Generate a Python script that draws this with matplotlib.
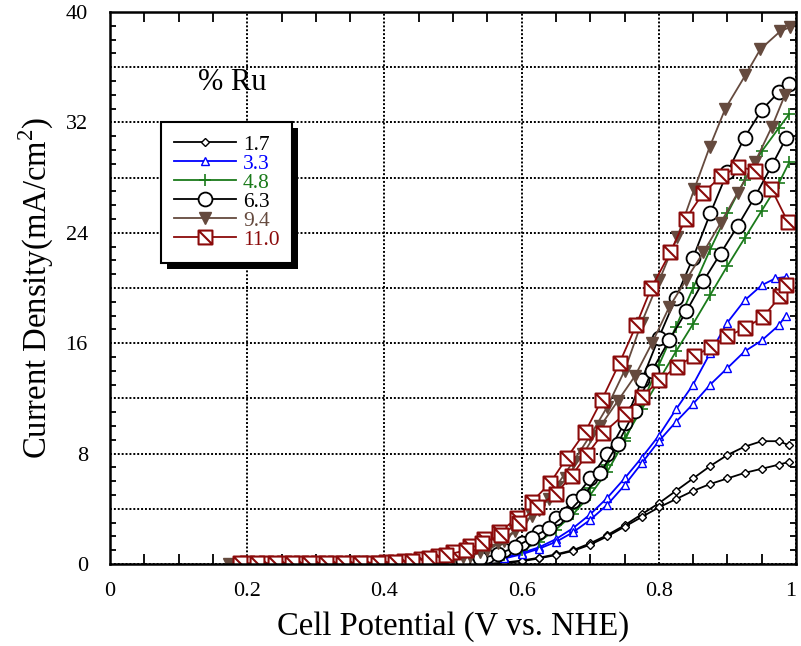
import matplotlib
matplotlib.use('Agg')
import matplotlib.pyplot as plt
from matplotlib.path import Path
from matplotlib.patches import Rectangle
from matplotlib.ticker import MultipleLocator, FuncFormatter
from matplotlib.transforms import IdentityTransform

plt.rcParams['font.family'] = ['Liberation Serif', 'DejaVu Serif']
plt.rcParams['mathtext.fontset'] = 'custom'
plt.rcParams['mathtext.rm'] = 'Liberation Serif'

# ---- data: each Ru loading has an upper and a lower sweep branch ----
ru_labels = ['1.7', '3.3', '4.8', '6.3', '9.4', '11.0']

x_17_up = [0.50, 0.525, 0.55, 0.575, 0.60, 0.625, 0.65, 0.675, 0.70, 0.725, 0.75, 0.775, 0.80, 0.825, 0.85, 0.875, 0.90, 0.925, 0.95, 0.975, 0.99]
y_17_up = [0.0, 0.0, 0.0, 0.1, 0.25, 0.45, 0.7, 1.0, 1.5, 2.1, 2.8, 3.6, 4.4, 5.3, 6.2, 7.1, 7.9, 8.5, 8.9, 8.9, 8.6]
x_17_dn = [0.50, 0.525, 0.55, 0.575, 0.60, 0.625, 0.65, 0.675, 0.70, 0.725, 0.75, 0.775, 0.80, 0.825, 0.85, 0.875, 0.90, 0.925, 0.95, 0.975, 0.99]
y_17_dn = [0.0, 0.0, 0.0, 0.05, 0.2, 0.4, 0.65, 0.95, 1.4, 2.0, 2.7, 3.4, 4.1, 4.7, 5.3, 5.8, 6.2, 6.6, 6.9, 7.2, 7.4]

x_33_up = [0.45, 0.475, 0.50, 0.525, 0.55, 0.575, 0.60, 0.625, 0.65, 0.675, 0.70, 0.725, 0.75, 0.775, 0.80, 0.825, 0.85, 0.875, 0.90, 0.925, 0.95, 0.97, 0.985]
y_33_up = [0.0, 0.05, 0.05, 0.1, 0.3, 0.5, 0.8, 1.2, 1.8, 2.6, 3.6, 4.8, 6.2, 7.7, 9.3, 11.2, 13.0, 15.3, 17.5, 19.1, 20.2, 20.7, 20.8]
x_33_dn = [0.45, 0.475, 0.50, 0.525, 0.55, 0.575, 0.60, 0.625, 0.65, 0.675, 0.70, 0.725, 0.75, 0.775, 0.80, 0.825, 0.85, 0.875, 0.90, 0.925, 0.95, 0.975, 0.985]
y_33_dn = [0.0, 0.0, 0.05, 0.05, 0.2, 0.4, 0.7, 1.1, 1.6, 2.3, 3.2, 4.3, 5.7, 7.3, 8.9, 10.3, 11.6, 13.0, 14.2, 15.4, 16.2, 17.3, 18.0]

x_48_up = [0.425, 0.45, 0.475, 0.50, 0.525, 0.55, 0.575, 0.60, 0.625, 0.65, 0.675, 0.70, 0.725, 0.75, 0.775, 0.80, 0.825, 0.85, 0.875, 0.90, 0.925, 0.95, 0.975, 0.99]
y_48_up = [0.0, 0.05, 0.1, 0.15, 0.25, 0.4, 0.65, 1.0, 1.6, 2.5, 3.6, 5.0, 6.7, 8.9, 11.6, 14.4, 17.2, 20.0, 22.8, 25.4, 27.8, 29.9, 31.6, 32.6]
x_48_dn = [0.425, 0.45, 0.475, 0.50, 0.525, 0.55, 0.575, 0.60, 0.625, 0.65, 0.675, 0.70, 0.725, 0.75, 0.775, 0.80, 0.825, 0.85, 0.875, 0.90, 0.925, 0.95, 0.975, 0.99]
y_48_dn = [0.0, 0.05, 0.1, 0.15, 0.25, 0.45, 0.75, 1.2, 1.9, 2.8, 4.0, 5.5, 7.2, 9.1, 11.2, 13.3, 15.4, 17.4, 19.5, 21.6, 23.6, 25.6, 27.6, 29.1]

x_63_up = [0.20, 0.225, 0.25, 0.275, 0.30, 0.325, 0.35, 0.375, 0.40, 0.425, 0.45, 0.475, 0.50, 0.525, 0.55, 0.575, 0.60, 0.625, 0.65, 0.675, 0.70, 0.725, 0.75, 0.775, 0.80, 0.825, 0.85, 0.875, 0.90, 0.925, 0.95, 0.975, 0.99]
y_63_up = [0.0, 0.0, 0.0, 0.0, 0.0, 0.0, 0.05, 0.05, 0.05, 0.1, 0.1, 0.15, 0.2, 0.35, 0.6, 1.0, 1.5, 2.3, 3.3, 4.6, 6.2, 8.0, 10.2, 13.3, 16.4, 19.3, 22.2, 25.4, 28.4, 30.9, 32.9, 34.2, 34.8]
x_63_dn = [0.215, 0.24, 0.265, 0.29, 0.315, 0.34, 0.365, 0.39, 0.415, 0.44, 0.465, 0.49, 0.515, 0.54, 0.565, 0.59, 0.615, 0.64, 0.665, 0.69, 0.715, 0.74, 0.765, 0.79, 0.815, 0.84, 0.865, 0.89, 0.915, 0.94, 0.965, 0.986]
y_63_dn = [0.0, 0.0, 0.0, 0.0, 0.0, 0.0, 0.05, 0.05, 0.05, 0.1, 0.1, 0.15, 0.25, 0.4, 0.7, 1.2, 1.9, 2.6, 3.6, 4.9, 6.6, 8.7, 11.1, 14.0, 16.2, 18.3, 20.5, 22.5, 24.5, 26.6, 28.9, 30.9]

x_94_up = [0.174, 0.20, 0.225, 0.25, 0.275, 0.30, 0.325, 0.35, 0.375, 0.40, 0.425, 0.45, 0.475, 0.50, 0.525, 0.55, 0.575, 0.60, 0.625, 0.65, 0.675, 0.70, 0.725, 0.75, 0.775, 0.801, 0.827, 0.852, 0.874, 0.897, 0.926, 0.948, 0.977, 0.991]
y_94_up = [0.0, 0.0, 0.0, 0.0, 0.05, 0.05, 0.05, 0.05, 0.1, 0.1, 0.1, 0.15, 0.2, 0.35, 0.6, 1.0, 1.7, 2.8, 3.9, 5.6, 7.4, 9.3, 11.4, 14.0, 17.5, 20.6, 23.7, 27.2, 30.2, 33.0, 35.4, 37.3, 38.6, 38.9]
x_94_dn = [0.19, 0.215, 0.24, 0.265, 0.29, 0.315, 0.34, 0.365, 0.39, 0.415, 0.44, 0.465, 0.49, 0.515, 0.54, 0.565, 0.59, 0.615, 0.64, 0.665, 0.69, 0.715, 0.74, 0.765, 0.79, 0.815, 0.84, 0.865, 0.89, 0.915, 0.94, 0.965, 0.984]
y_94_dn = [0.0, 0.0, 0.0, 0.0, 0.05, 0.05, 0.05, 0.05, 0.1, 0.1, 0.1, 0.15, 0.3, 0.5, 0.9, 1.5, 2.4, 3.5, 4.7, 6.2, 8.0, 10.0, 11.8, 13.6, 16.0, 18.6, 20.6, 22.6, 24.7, 26.9, 29.1, 31.7, 34.0]

x_110_up = [0.20, 0.228, 0.253, 0.278, 0.303, 0.328, 0.353, 0.378, 0.403, 0.428, 0.453, 0.478, 0.50, 0.525, 0.545, 0.567, 0.593, 0.615, 0.642, 0.666, 0.693, 0.717, 0.743, 0.767, 0.789, 0.817, 0.839, 0.865, 0.891, 0.916, 0.940, 0.964, 0.988]
y_110_up = [0.05, 0.05, 0.1, 0.1, 0.1, 0.1, 0.1, 0.1, 0.15, 0.2, 0.35, 0.6, 0.9, 1.3, 1.8, 2.3, 3.3, 4.5, 5.9, 7.7, 9.6, 11.9, 14.6, 17.3, 20.0, 22.6, 25.0, 26.9, 28.1, 28.8, 28.5, 27.2, 24.8]
x_110_dn = [0.19, 0.215, 0.24, 0.265, 0.29, 0.315, 0.34, 0.365, 0.39, 0.415, 0.44, 0.465, 0.49, 0.519, 0.542, 0.570, 0.596, 0.622, 0.650, 0.673, 0.695, 0.719, 0.751, 0.775, 0.801, 0.826, 0.852, 0.876, 0.900, 0.926, 0.952, 0.977, 0.985]
y_110_dn = [0.05, 0.05, 0.05, 0.05, 0.05, 0.1, 0.1, 0.1, 0.1, 0.15, 0.25, 0.4, 0.65, 1.0, 1.5, 2.1, 3.0, 4.1, 5.1, 6.4, 7.9, 9.5, 10.9, 12.1, 13.3, 14.3, 15.1, 15.7, 16.5, 17.1, 17.9, 19.4, 20.2]

# square with a diagonal stroke (top-left to bottom-right)
sq_diag = Path([(-1, -1), (1, -1), (1, 1), (-1, 1), (-1, -1), (-1, 1), (1, -1)],
               [Path.MOVETO, Path.LINETO, Path.LINETO, Path.LINETO, Path.CLOSEPOLY, Path.MOVETO, Path.LINETO])

series = [
    (x_17_up, y_17_up, x_17_dn, y_17_dn, '#000000', dict(marker='D', ms=4.5, mfc='white')),
    (x_33_up, y_33_up, x_33_dn, y_33_dn, '#0000ff', dict(marker='^', ms=6, mfc='white')),
    (x_48_up, y_48_up, x_48_dn, y_48_dn, '#1a7a1a', dict(marker='+', ms=8, mew=1.2)),
    (x_63_up, y_63_up, x_63_dn, y_63_dn, '#000000', dict(marker='o', ms=10, mfc='white', mew=1.3)),
    (x_94_up, y_94_up, x_94_dn, y_94_dn, '#654a3e', dict(marker='v', ms=9)),
    (x_110_up, y_110_up, x_110_dn, y_110_dn, '#8b0a0a', dict(marker=sq_diag, ms=10, mfc='white', mew=1.5)),
]

fig = plt.figure(figsize=(8.01, 6.46), dpi=100)
ax = fig.add_axes([110 / 801, (646 - 564) / 646, 686 / 801, 552 / 646])

handles = []
for (xu, yu, xd, yd, col, mk), lab in zip(series, ru_labels):
    h, = ax.plot(xu, yu, color=col, lw=1.3, mec=col, label=lab, **mk)
    ax.plot(xd, yd, color=col, lw=1.3, mec=col, **mk)
    handles.append(h)

ax.set_xlim(0, 1)
ax.set_ylim(0, 40)
ax.xaxis.set_major_locator(MultipleLocator(0.2))
ax.xaxis.set_minor_locator(MultipleLocator(0.05))
ax.yaxis.set_major_locator(MultipleLocator(4))
ax.yaxis.set_minor_locator(MultipleLocator(1))
ax.xaxis.set_major_formatter(FuncFormatter(lambda v, p: '0' if abs(v) < 1e-9 else ('1' if abs(v - 1) < 1e-9 else f'{v:.1f}')))
ax.yaxis.set_major_formatter(FuncFormatter(lambda v, p: f'{int(round(v))}' if int(round(v)) % 8 == 0 else ''))
ax.tick_params(which='both', direction='in', top=True, right=True, colors='black', width=1.3)
ax.tick_params(which='major', length=0, labelsize=16)
ax.tick_params(axis='x', which='major', pad=13)
ax.tick_params(axis='y', which='major', pad=16)
ax.tick_params(axis='x', which='minor', length=7)
ax.tick_params(axis='y', which='minor', length=4.5)
ax.grid(True, which='major', color='black', linestyle=(0, (1, 1)), linewidth=1.4)
ax.set_axisbelow(True)
for sp in ax.spines.values():
    sp.set_linewidth(1.8)

ax.set_xlabel('Cell Potential (V vs. NHE)', fontsize=23.5, labelpad=7)
ax.set_ylabel('Current Density(mA/cm$^2$)', fontsize=23.5, labelpad=7)

fig.text(232 / 801, 1 - 82 / 646, '% Ru', fontsize=22, ha='center', va='center')

leg = ax.legend(handles=handles, loc='upper left', bbox_to_anchor=(161 / 801, 1 - 122 / 646),
                bbox_transform=fig.transFigure, fontsize=15.5, frameon=True, fancybox=False,
                framealpha=1, edgecolor='black', handlelength=2.9, handletextpad=0.3,
                labelspacing=-0.05, borderpad=0.6, borderaxespad=0)
leg.get_frame().set_linewidth(1.5)
leg.set_zorder(6)
for txt, (_, _, _, _, col, _) in zip(leg.get_texts(), series):
    txt.set_color(col)

fig.canvas.draw()
# keep the "1" at the right end inside the picture
for tick in ax.xaxis.get_major_ticks():
    if tick.label1.get_text() == '1':
        tick.label1.set_horizontalalignment('right')
bb = leg.get_window_extent()
shadow = Rectangle((bb.x0 + 6, bb.y0 - 6), bb.width, bb.height, transform=IdentityTransform(),
                   facecolor='black', edgecolor='none', zorder=5.5, clip_on=False)
ax.add_artist(shadow)

fig.savefig('out.png', dpi=100)
